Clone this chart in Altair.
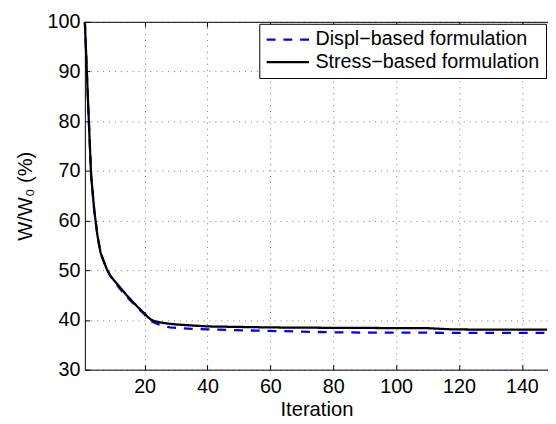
import altair as alt
import pandas as pd

series_names = ["Displ−based formulation", "Stress−based formulation"]

displ_iter = [1, 2, 3, 4, 5, 6, 7, 8, 9, 10, 12, 14, 16, 18, 20, 21, 22, 24, 28, 35, 40, 56, 68, 80, 100, 120, 148]
displ_w = [100, 84, 69, 62, 57, 53.5, 51.8, 50.2, 49.0, 48.1, 46.4, 44.9, 43.6, 42.3, 41.1, 40.3, 39.8, 39.2,
           38.5, 38.2, 38.1, 37.85, 37.7, 37.5, 37.45, 37.42, 37.4]

stress_iter = [1, 2, 3, 4, 5, 6, 7, 8, 9, 10, 12, 14, 16, 18, 20, 21, 22, 23, 25, 27, 30, 35, 40, 60, 80, 110,
               118, 130, 148]
stress_w = [100, 84, 69, 62, 57, 53.5, 51.8, 50.2, 49.0, 48.2, 46.7, 45.2, 43.8, 42.5, 41.3, 40.6, 40.1, 39.8,
            39.5, 39.3, 39.1, 38.9, 38.7, 38.5, 38.42, 38.35, 38.1, 38.06, 38.05]

x_ticks = [20, 40, 60, 80, 100, 120, 140]
y_ticks = [30, 40, 50, 60, 70, 80, 90, 100]

rows = []
for it, w in zip(displ_iter, displ_w):
    rows.append({"iter": it, "w": w, "series": series_names[0]})
for it, w in zip(stress_iter, stress_w):
    rows.append({"iter": it, "w": w, "series": series_names[1]})
df = pd.DataFrame(rows)

W = 470
H = 353
FONT = "Liberation Sans"

xscale = alt.Scale(domain=[1, 148.3], nice=False, zero=False)
yscale = alt.Scale(domain=[30, 100], nice=False, zero=False)

legend = alt.Legend(
    title=None, orient="top-right", offset=2,
    symbolType="stroke", symbolSize=1849, symbolStrokeWidth=2.3,
    labelFont=FONT, labelFontSize=20, labelColor="black",
    strokeColor="black", fillColor="white", padding=6,
    clipHeight=20, rowPadding=3, labelOffset=5,
)

base = alt.Chart(df)

lines = base.mark_line(strokeWidth=2.3).encode(
    x=alt.X("iter:Q", scale=xscale,
            axis=alt.Axis(title="Iteration", values=x_ticks, grid=True, ticks=False,
                          labelPadding=7, titlePadding=3, domain=True)),
    y=alt.Y("w:Q", scale=yscale,
            axis=alt.Axis(title="W/W₀ (%)", values=y_ticks, grid=True, ticks=False,
                          labelPadding=5, titlePadding=12, domain=True)),
    color=alt.Color("series:N", scale=alt.Scale(domain=series_names, range=["#0000ff", "#000000"]),
                    legend=legend),
    strokeDash=alt.StrokeDash("series:N", scale=alt.Scale(domain=series_names, range=[[9, 8], [1, 0]]),
                              legend=legend),
)

# top border with inward ticks
top_ticks = base.mark_line(opacity=0).encode(
    x=alt.X("iter:Q", scale=xscale,
            axis=alt.Axis(orient="bottom", offset=-H, values=x_ticks, labels=False, title=None,
                          grid=False, ticks=True, tickSize=5, domain=True)),
    y=alt.Y("w:Q", scale=yscale, axis=None),
)

# bottom inward ticks
bottom_ticks = base.mark_line(opacity=0).encode(
    x=alt.X("iter:Q", scale=xscale,
            axis=alt.Axis(orient="top", offset=-H, values=x_ticks, labels=False, title=None,
                          grid=False, ticks=True, tickSize=5, domain=False)),
    y=alt.Y("w:Q", scale=yscale, axis=None),
)

# left inward ticks
left_ticks = base.mark_line(opacity=0).encode(
    x=alt.X("iter:Q", scale=xscale, axis=None),
    y=alt.Y("w:Q", scale=yscale,
            axis=alt.Axis(orient="right", offset=-W, values=y_ticks, labels=False, title=None,
                          grid=False, ticks=True, tickSize=5, domain=False)),
)

chart = alt.layer(lines, top_ticks, bottom_ticks, left_ticks).resolve_axis(
    x="independent", y="independent"
).properties(
    width=W, height=H,
    autosize=alt.AutoSizeParams(type="none"),
    padding={"left": 78, "top": 11, "right": 0, "bottom": 46},
).configure_view(stroke=None).configure_axis(
    labelFont=FONT, labelFontSize=20, labelColor="black",
    titleFont=FONT, titleFontSize=20.5, titleFontWeight="normal", titleColor="black",
    domainColor="black", domainWidth=1, tickColor="black", tickWidth=1,
    gridColor="black", gridDash=[1, 5], gridOpacity=0.55, gridWidth=1,
).configure_legend(labelLimit=0)

chart.save("out.html", embed_options={"renderer": "svg", "actions": False})
